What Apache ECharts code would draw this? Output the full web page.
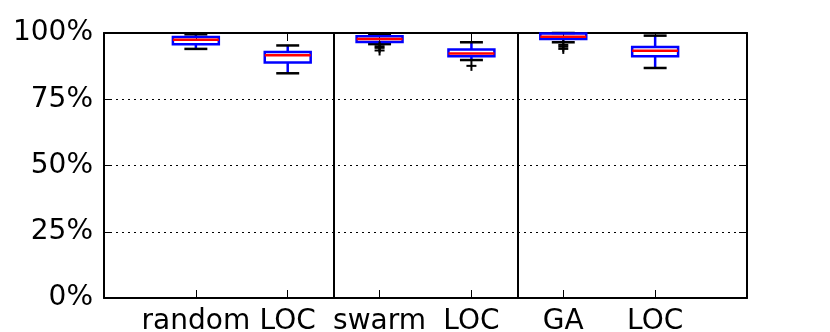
<!DOCTYPE html>
<html>
<head>
<meta charset="utf-8">
<script src="https://cdn.jsdelivr.net/npm/echarts@6/dist/echarts.min.js"></script>
<style>
  html, body { margin: 0; background: #fff; }
  #main { width: 830px; height: 332px; }
</style>
</head>
<body>
<div id="main"></div>
<script>
// categories and box statistics (percent)
var names = ['random', 'LOC', 'swarm', 'LOC', 'GA', 'LOC'];
var lowWhisker  = [94.0, 84.8, 95.8, 89.8, 96.5, 86.8];
var q1          = [95.8, 88.9, 96.6, 91.2, 97.7, 91.2];
var median      = [97.5, 91.6, 97.7, 92.3, 98.6, 93.3];
var q3          = [98.5, 92.8, 98.8, 93.8, 99.8, 94.7];
var highWhisker = [99.5, 95.3, 99.5, 96.5, 100.0, 99.0];
var fliers = [[], [], [95.0, 94.4, 93.4], [87.6], [95.5, 94.8, 94.0], []];
var yTicks = [0, 25, 50, 75, 100];
var separators = [2.5, 4.5];

var myChart = echarts.init(document.getElementById('main'));

var boxData = names.map(function (n, i) {
  return [i + 1, lowWhisker[i], q1[i], median[i], q3[i], highWhisker[i]];
});
var flierData = [];
fliers.forEach(function (list, i) {
  list.forEach(function (v) { flierData.push([i + 1, v]); });
});

function line(x1, y1, x2, y2, color) {
  return {
    type: 'line',
    shape: { x1: x1, y1: y1, x2: x2, y2: y2 },
    style: { stroke: color, lineWidth: 2.5 }
  };
}

function renderBox(params, api) {
  var pos = api.value(0);
  var half = api.size([0.25, 0])[0];
  var capHalf = half / 2;
  var cx = api.coord([pos, 0])[0];
  var yLow = api.coord([pos, api.value(1)])[1];
  var yQ1 = api.coord([pos, api.value(2)])[1];
  var yMed = api.coord([pos, api.value(3)])[1];
  var yQ3 = api.coord([pos, api.value(4)])[1];
  var yHigh = api.coord([pos, api.value(5)])[1];
  return {
    type: 'group',
    children: [
      line(cx, yQ1, cx, yLow, '#0000ff'),
      line(cx, yQ3, cx, yHigh, '#0000ff'),
      line(cx - capHalf, yLow, cx + capHalf, yLow, '#000'),
      line(cx - capHalf, yHigh, cx + capHalf, yHigh, '#000'),
      {
        type: 'rect',
        shape: { x: cx - half, y: yQ3, width: half * 2, height: yQ1 - yQ3 },
        style: { fill: 'none', stroke: '#0000ff', lineWidth: 2.5 }
      },
      line(cx - half, yMed, cx + half, yMed, '#ff0000')
    ]
  };
}

function renderFlier(params, api) {
  var p = api.coord([api.value(0), api.value(1)]);
  var s = 5;
  return {
    type: 'group',
    children: [
      { type: 'line', shape: { x1: p[0] - s, y1: p[1], x2: p[0] + s, y2: p[1] }, style: { stroke: '#000', lineWidth: 2 } },
      { type: 'line', shape: { x1: p[0], y1: p[1] - s, x2: p[0], y2: p[1] + s }, style: { stroke: '#000', lineWidth: 2 } }
    ]
  };
}

var font = { fontFamily: 'DejaVu Sans', fontSize: 28, color: '#000' };
var frameLine = { show: true, onZero: false, lineStyle: { color: '#000', width: 2 } };
var innerTick = { show: true, inside: true, length: 8, lineStyle: { color: '#000', width: 1 } };

var option = {
  animation: false,
  backgroundColor: '#fff',
  grid: { left: 104, right: 83, top: 33, bottom: 34, outerBoundsMode: 'none', containLabel: false },
  xAxis: [
    {
      type: 'value', min: 0, max: 7, interval: 1, position: 'bottom',
      axisLine: frameLine, axisTick: innerTick,
      axisLabel: Object.assign({ margin: 10, formatter: function (v) { return names[v - 1] || ''; } }, font),
      splitLine: { show: false }
    },
    {
      type: 'value', min: 0, max: 7, interval: 1, position: 'top',
      axisLine: frameLine, axisTick: innerTick, axisLabel: { show: false },
      splitLine: { show: false }
    }
  ],
  yAxis: [
    {
      type: 'value', min: yTicks[0], max: yTicks[yTicks.length - 1], interval: 25, position: 'left',
      axisLine: frameLine, axisTick: innerTick,
      axisLabel: Object.assign({ margin: 11, formatter: '{value}%' }, font),
      splitLine: { show: true, lineStyle: { color: '#000', width: 1, type: [2, 4] } }
    },
    {
      type: 'value', min: yTicks[0], max: yTicks[yTicks.length - 1], interval: 25, position: 'right',
      axisLine: frameLine, axisTick: innerTick, axisLabel: { show: false },
      splitLine: { show: false }
    }
  ],
  series: [
    {
      type: 'custom',
      renderItem: renderBox,
      data: boxData,
      clip: false,
      z: 3,
      markLine: {
        silent: true,
        symbol: 'none',
        label: { show: false },
        lineStyle: { color: '#000', width: 2, type: 'solid' },
        data: separators.map(function (s) { return { xAxis: s }; })
      }
    },
    {
      type: 'custom',
      renderItem: renderFlier,
      data: flierData,
      clip: false,
      z: 3
    }
  ]
};
myChart.setOption(option);
</script>
</body>
</html>
